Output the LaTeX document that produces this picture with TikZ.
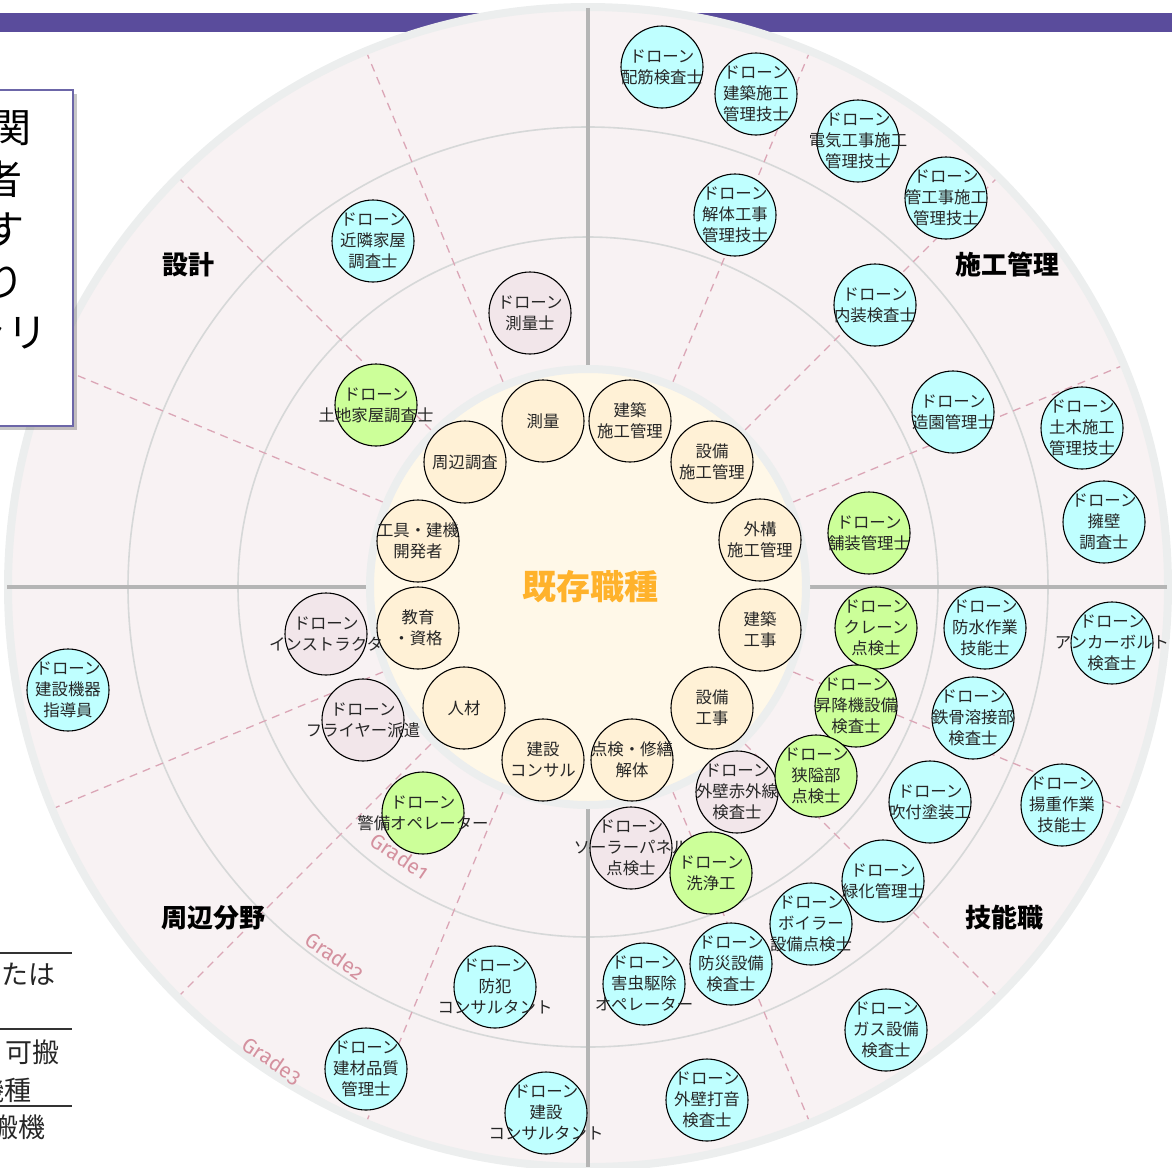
\documentclass[tikz,border=0pt]{standalone}
\usepackage{fontspec}
\setmainfont{Noto Sans CJK JP}
\newfontfamily\gradefont[Numbers=OldStyle]{Fira Sans}
\usetikzlibrary{calc}

\definecolor{barc}{HTML}{5A4C9C}
\definecolor{bgc}{HTML}{F8F2F3}
\definecolor{rimc}{HTML}{ECEEEE}
\definecolor{ringc}{HTML}{D6D8D8}
\definecolor{axisc}{HTML}{B5B5B5}
\definecolor{dashc}{HTML}{DBA6B6}
\definecolor{corec}{HTML}{FFF8E8}
\definecolor{creamc}{HTML}{FFF1D6}
\definecolor{cyanc}{HTML}{BFFFFF}
\definecolor{greenc}{HTML}{CCFF99}
\definecolor{pinkc}{HTML}{F2E6EA}
\definecolor{orangec}{HTML}{FFB22B}
\definecolor{gradec}{HTML}{D4919F}
\definecolor{boxc}{HTML}{6C66A8}

\newcommand{\bubble}[5]{%
  \node[#2] (#1) at (#3,#4) {};
  \node[txt] (#1-t) at (#1.center) {#5};
}

\begin{document}
\begin{tikzpicture}[x=1pt,y=-1pt,
  bub/.style={circle,draw=black,line width=1.1pt,minimum size=82pt,inner sep=0pt},
  cy/.style={bub,fill=cyanc},
  gr/.style={bub,fill=greenc},
  pk/.style={bub,fill=pinkc},
  cr/.style={bub,fill=creamc},
  txt/.style={align=center,inner sep=0pt,text=black!85,font=\fontsize{16.4}{21}\selectfont},
  quad/.style={inner sep=0pt,font=\fontsize{26}{30}\selectfont\bfseries},
  grade/.style={inner sep=0pt,text=gradec,font=\gradefont\fontsize{21}{22}\selectfont,rotate=-34},
  radial/.style={draw=dashc,line width=1.3pt,dash pattern=on 8pt off 6pt},
  ring/.style={draw=ringc,line width=1.6pt},
  axis/.style={draw=axisc,line width=4.5pt},
  boxtext/.style={inner sep=0pt,anchor=east,font=\fontsize{40}{44}\selectfont},
  tabtext/.style={inner sep=0pt,anchor=east,text=black!85,font=\fontsize{27}{30}\selectfont},
]
\useasboundingbox (0,0) rectangle (1172,1167);

% top bar
\fill[barc] (0,13) rectangle (1172,32);

\coordinate (C) at (588,587);

% outer disc
\fill[bgc] (C) circle[radius=580pt];
\draw[rimc,line width=8pt] (C) circle[radius=580pt];

% rings
\draw[ring] (C) circle[radius=350pt];
\draw[ring] (C) circle[radius=460pt];

% dashed radials
\foreach \a in {22.5,45,67.5,112.5,135,157.5,202.5,225,247.5,292.5,315,337.5}{
  \draw[radial] ([shift={(\a:222pt)}]C) -- ([shift={(\a:576pt)}]C);
}

% axes
\draw[axis] (588,8) -- (588,380);
\draw[axis] (588,795) -- (588,1167);
\draw[axis] (7,587) -- (380,587);
\draw[axis] (796,587) -- (1167,587);

% core
\fill[corec] (C) circle[radius=218pt];
\draw[rimc,line width=8pt] (C) circle[radius=218pt];
\node[inner sep=0pt,text=orangec,font=\fontsize{34}{38}\selectfont\bfseries] (core) at (590,587) {既存職種};

% quadrant labels
\node[quad] (q1) at (188,265) {設計};
\node[quad] (q2) at (1007,265) {施工管理};
\node[quad] (q3) at (213,918) {周辺分野};
\node[quad] (q4) at (1004,918) {技能職};

% grade labels
\node[grade] (g1) at (400,856) {Grade1};
\node[grade] (g2) at (335,956) {Grade2};
\node[grade] (g3) at (272,1061) {Grade3};

% core nodes
\bubble{c1}{cr}{543}{421}{測量}
\bubble{c2}{cr}{630}{421}{建築\\施工管理}
\bubble{c3}{cr}{712}{462}{設備\\施工管理}
\bubble{c4}{cr}{760}{540}{外構\\施工管理}
\bubble{c5}{cr}{760}{630}{建築\\工事}
\bubble{c6}{cr}{712}{708}{設備\\工事}
\bubble{c7}{cr}{632}{760}{点検・修繕\\解体}
\bubble{c8}{cr}{543}{760}{建設\\コンサル}
\bubble{c9}{cr}{464}{708}{人材}
\bubble{c10}{cr}{418}{628}{教育\\・資格}
\bubble{c11}{cr}{418}{541}{工具・建機\\開発者}
\bubble{c12}{cr}{465}{462}{周辺調査}

% 設計
\bubble{d1}{cy}{373}{241}{ドローン\\近隣家屋\\調査士}
\bubble{d2}{pk}{530}{313}{ドローン\\測量士}
\bubble{d3}{gr}{376}{405}{ドローン\\土地家屋調査士}

% 施工管理
\bubble{s1}{cy}{662}{67}{ドローン\\配筋検査士}
\bubble{s2}{cy}{756}{94}{ドローン\\建築施工\\管理技士}
\bubble{s3}{cy}{858}{141}{ドローン\\電気工事施工\\管理技士}
\bubble{s4}{cy}{946}{198}{ドローン\\管工事施工\\管理技士}
\bubble{s5}{cy}{735}{215}{ドローン\\解体工事\\管理技士}
\bubble{s6}{cy}{875}{305}{ドローン\\内装検査士}
\bubble{s7}{cy}{953}{412}{ドローン\\造園管理士}
\bubble{s8}{cy}{1082}{428}{ドローン\\土木施工\\管理技士}
\bubble{s9}{cy}{1104}{522}{ドローン\\擁壁\\調査士}
\bubble{s10}{gr}{869}{533}{ドローン\\舗装管理士}

% 周辺分野
\bubble{p1}{pk}{326}{634}{ドローン\\インストラクタ}
\bubble{p2}{pk}{363}{720}{ドローン\\フライヤー派遣}
\bubble{p3}{cy}{68}{690}{ドローン\\建設機器\\指導員}
\bubble{p4}{gr}{423}{813}{ドローン\\警備オペレーター}
\bubble{p5}{cy}{495}{987}{ドローン\\防犯\\コンサルタント}
\bubble{p6}{cy}{366}{1069}{ドローン\\建材品質\\管理士}
\bubble{p7}{cy}{546}{1113}{ドローン\\建設\\コンサルタント}

% 技能職
\bubble{k1}{gr}{876}{628}{ドローン\\クレーン\\点検士}
\bubble{k2}{cy}{985}{628}{ドローン\\防水作業\\技能士}
\bubble{k3}{cy}{1112}{643}{ドローン\\アンカーボルト\\検査士}
\bubble{k4}{gr}{856}{706}{ドローン\\昇降機設備\\検査士}
\bubble{k5}{cy}{973}{718}{ドローン\\鉄骨溶接部\\検査士}
\bubble{k6}{pk}{737}{792}{ドローン\\外壁赤外線\\検査士}
\bubble{k7}{gr}{816}{776}{ドローン\\狭隘部\\点検士}
\bubble{k8}{cy}{930}{802}{ドローン\\吹付塗装工}
\bubble{k9}{cy}{1062}{805}{ドローン\\揚重作業\\技能士}
\bubble{k10}{pk}{631}{848}{ドローン\\ソーラーパネル\\点検士}
\bubble{k11}{gr}{711}{873}{ドローン\\洗浄工}
\bubble{k12}{cy}{883}{881}{ドローン\\緑化管理士}
\bubble{k13}{cy}{811}{924}{ドローン\\ボイラー\\設備点検士}
\bubble{k14}{cy}{731}{964}{ドローン\\防災設備\\検査士}
\bubble{k15}{cy}{644}{984}{ドローン\\害虫駆除\\オペレーター}
\bubble{k16}{cy}{886}{1030}{ドローン\\ガス設備\\検査士}
\bubble{k17}{cy}{707}{1100}{ドローン\\外壁打音\\検査士}

% left box
\fill[black,opacity=0.22] (-5,94) rectangle (77,430);
\draw[boxc,fill=white,line width=1.6pt] (-5,90) rectangle (73,426);
\node[boxtext] (b1) at (32,128) {関};
\node[boxtext] (b2) at (23,179) {者};
\node[boxtext] (b3) at (25,230) {す};
\node[boxtext] (b4) at (25,282) {り};
\node[boxtext] (b5) at (48,334) {ャリ};

% bottom-left table
\draw[black!80,line width=1.2pt] (0,953) -- (72,953);
\draw[black!80,line width=1.2pt] (0,1029) -- (72,1029);
\draw[black!80,line width=1.2pt] (0,1106) -- (72,1106);
\node[tabtext] (t1) at (56,974) {たは};
\node[tabtext] (t2) at (60,1052) {可搬};
\node[tabtext] (t3) at (32,1090) {機種};
\node[tabtext] (t4) at (46,1127) {搬機};
\end{tikzpicture}
\end{document}
